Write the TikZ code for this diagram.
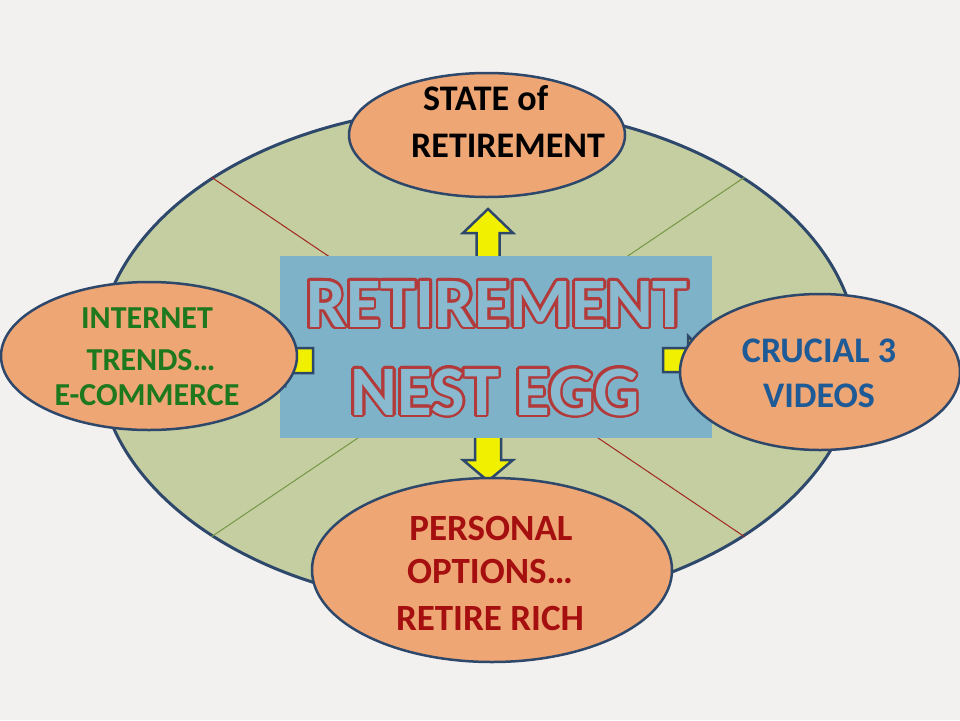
\documentclass[tikz,border=0pt]{standalone}
\usepackage{fontspec}
\setmainfont{Carlito}
\usetikzlibrary{shapes.geometric}
\definecolor{bgc}{RGB}{242,241,239}
\definecolor{greenfill}{RGB}{196,206,160}
\definecolor{navy}{RGB}{46,72,108}
\definecolor{orangefill}{RGB}{238,166,116}
\definecolor{rectblue}{RGB}{125,178,200}
\definecolor{titlered}{RGB}{178,58,58}
\definecolor{titlefill}{RGB}{138,186,207}
\definecolor{arrowyellow}{RGB}{240,240,0}
\definecolor{redline}{RGB}{160,40,30}
\definecolor{greenline}{RGB}{120,150,70}
\definecolor{txtgreen}{RGB}{30,120,30}
\definecolor{txtblue}{RGB}{30,90,150}
\definecolor{txtred}{RGB}{165,15,15}
\begin{document}
\begin{tikzpicture}[x=1pt,y=-1pt,
  oval/.style={ellipse, draw=navy, line width=2.5pt, fill=orangefill, inner sep=0pt},
  lbl/.style={font=\bfseries\fontsize{37}{42}\selectfont, inner sep=0pt, anchor=base},
  ttl/.style={font=\bfseries\fontsize{71}{76}\selectfont, inner sep=0pt, anchor=base},
  blockarrow/.style={fill=arrowyellow, draw=navy, line width=2.5pt, line join=miter},
]
\fill[bgc] (0,0) rectangle (960,720);
\useasboundingbox (0,0) rectangle (960,720);
\node[ellipse, draw=navy, line width=3pt, fill=greenfill, minimum width=760pt, minimum height=500pt, inner sep=0pt] (big) at (478,357) {};
\draw[redline, line width=1pt] (big.146) -- (big.326);
\draw[greenline, line width=1pt] (big.34) -- (big.214);
% up and down block arrows
\draw[blockarrow] (476.5,258) -- (476.5,233) -- (463,233) -- (488,209) -- (513,233) -- (499.5,233) -- (499.5,258) -- cycle;
\draw[blockarrow] (475,436) -- (501,436) -- (501,460) -- (513,460) -- (488,481) -- (463,460) -- (475,460) -- cycle;
% central box
\node[fill=rectblue, minimum width=432pt, minimum height=182pt, inner sep=0pt] (core) at (496,347) {};
% left and right block arrows
\draw[blockarrow] (313,348) -- (313,373) -- (285,373) -- (285,385) -- (262,360.5) -- (285,336) -- (285,348) -- cycle;
\draw[blockarrow] (663,348) -- (663,372) -- (688,372) -- (688,384) -- (712,360) -- (688,336) -- (688,348) -- cycle;
% title
\foreach \a in {0,15,...,345} {
  \node[ttl, text=titlered, shift={(\a:2.7pt)}] (ta\a) at (497,327) {RETIREMENT};
  \node[ttl, text=titlered, shift={(\a:2.7pt)}] (tb\a) at (495,415) {NEST EGG};
}
\node[ttl, text=titlefill] (title1) at (497,327) {RETIREMENT};
\node[ttl, text=titlefill] (title2) at (495,415) {NEST EGG};
% ovals
\node[oval, minimum width=276pt, minimum height=124pt] (top) at (487,135) {};
\node[oval, minimum width=296pt, minimum height=148pt] (left) at (149,356) {};
\node[oval, minimum width=280pt, minimum height=156pt] (right) at (820,372) {};
\node[oval, minimum width=360pt, minimum height=184pt] (bottom) at (492,570) {};
% texts
\node[lbl, anchor=base west, text=black, font=\bfseries\fontsize{36}{40}\selectfont] (s1) at (423,110) {STATE of};
\node[lbl, anchor=base west, text=black, font=\bfseries\fontsize{36}{40}\selectfont] (s2) at (411,157) {RETIREMENT};
\node[lbl, text=txtgreen, font=\bfseries\fontsize{32}{38}\selectfont] (i1) at (147,328) {INTERNET};
\node[lbl, text=txtgreen, font=\bfseries\fontsize{32}{38}\selectfont] (i2) at (151,370) {TRENDS…};
\node[lbl, text=txtgreen, font=\bfseries\fontsize{32}{38}\selectfont] (i3) at (147,405) {E-COMMERCE};
\node[lbl, text=txtblue, font=\bfseries\fontsize{36}{40}\selectfont] (c1) at (819,362) {CRUCIAL 3};
\node[lbl, text=txtblue, font=\bfseries\fontsize{36}{40}\selectfont] (c2) at (819,407) {VIDEOS};
\node[lbl, text=txtred] (p1) at (491,540) {PERSONAL};
\node[lbl, text=txtred] (p2) at (490,583) {OPTIONS…};
\node[lbl, text=txtred] (p3) at (490,630) {RETIRE RICH};
\end{tikzpicture}
\end{document}
